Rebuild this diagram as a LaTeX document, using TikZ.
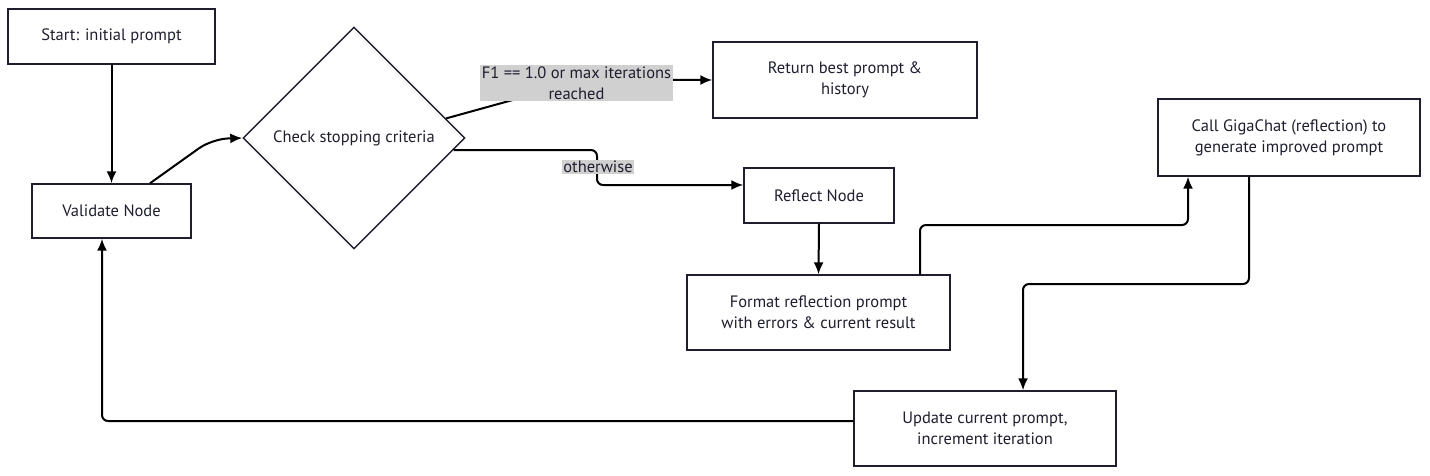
\documentclass[tikz,border=0pt]{standalone}
\usepackage{fontspec}
\setmainfont{PT Sans}
\usetikzlibrary{arrows.meta, calc, positioning, shapes.geometric}
\definecolor{ink}{HTML}{1E1E2E}
\definecolor{condgray}{HTML}{D0D0D0}
\tikzset{
  box/.style={draw=ink, line width=1.4pt, text=ink, align=center, inner sep=0pt},
  flow/.style={line width=2pt, rounded corners=6pt, -{Latex[length=12pt,width=10pt]}},
  cond/.style={fill=condgray, text=ink, align=center, inner sep=1.5pt},
}

\begin{document}
\begin{tikzpicture}[x=1pt, y=-1pt, font=\fontsize{16.5}{21}\selectfont]
  \useasboundingbox (0,0) rectangle (1430,476);
  \node [box, minimum width=207pt, minimum height=55pt] (start) at (111.5,36.5) {Start: initial prompt};
  \node [box, minimum width=159pt, minimum height=54pt] (valid) at (111.5,211) {Validate Node};
  \node [box, shape=diamond, aspect=1, minimum width=222pt, minimum height=222pt] (check) at (354,138) {Check stopping criteria};
  \node [box, minimum width=264pt, minimum height=76pt] (ret) at (845,80) {Return best prompt \&\\history};
  \node [box, minimum width=150pt, minimum height=55pt] (reflect) at (819,195.5) {Reflect Node};
  \node [box, minimum width=263pt, minimum height=75pt] (fmt) at (818.5,312.5) {Format reflection prompt\\with errors \& current result};
  \node [box, minimum width=262pt, minimum height=77pt] (call) at (1289,137.5) {Call GigaChat (reflection) to\\generate improved prompt};
  \node [box, minimum width=262pt, minimum height=75pt] (upd) at (985,428.5) {Update current prompt,\\increment iteration};

  \draw [flow] (start.south) -- (valid.north);
  \draw [flow, rounded corners=16pt] ($(valid.north)+(38.5,0)$) -- (212,139) -- (check.west);
  \draw [flow] (check.12) -- (585,80) -- (ret.west);
  \draw [flow] (check.-7) -- (597,150) -- (597,185) -- ($(reflect.west)+(0,-10.5)$);
  \draw [flow] (reflect.south) -- (fmt.north);
  \draw [flow] ($(fmt.north)+(101.5,0)$) -- (920,225) -- (1188,225) -- ($(call.south)+(-101,0)$);
  \draw [flow] ($(call.south)+(-40,0)$) -- (1249,284) -- (1023,284) -- ($(upd.north)+(38,0)$);
  \draw [flow] ($(upd.west)+(0,-7.5)$) -- (102,421) -- ($(valid.south)+(-9.5,0)$);

  \node [cond] (stopcond) at (576.5,83) {F1 == 1.0 or max iterations\\reached};
  \node [cond] (other) at (598,167) {otherwise};
\end{tikzpicture}
\end{document}
